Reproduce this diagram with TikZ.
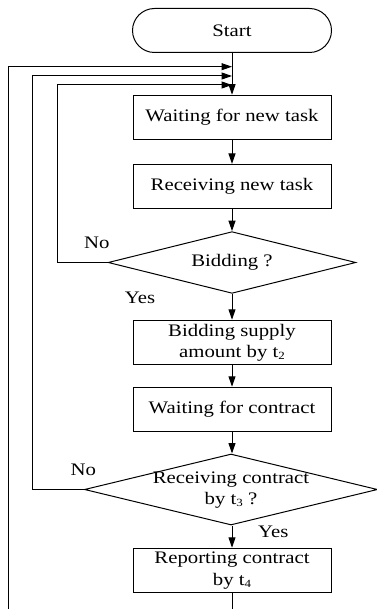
\documentclass[tikz,border=0pt]{standalone}
\usepackage{fontspec}
\setmainfont[FakeStretch=1.18]{Liberation Serif}
\usetikzlibrary{arrows.meta,shapes.geometric}
\newcommand{\sbs}[1]{\raisebox{-2pt}{\fontsize{11}{11}\selectfont #1}}
\begin{document}
\begin{tikzpicture}[x=1pt,y=-1pt,
  every node/.style={font=\fontsize{17.6}{21.4}\selectfont},
  box/.style={draw,line width=1pt,rectangle,minimum width=198pt,minimum height=44.5pt,inner sep=0pt,align=center},
  term/.style={draw,line width=1pt,rectangle,rounded corners=22pt,minimum width=199pt,minimum height=44pt,inner sep=0pt},
  dec/.style={draw,line width=1pt,diamond,inner sep=0pt},
  lbl/.style={inner sep=0pt,align=center},
  arr/.style={line width=1pt,-{Triangle[length=10.5pt,width=7pt]}},
  ln/.style={line width=1pt}]
\useasboundingbox (0,0) rectangle (376,609);
\node[term] (start) at (232,30.5) {Start};
\node[box] (b1) at (232,117.5) {Waiting for new task};
\node[box] (b2) at (232,186.7) {Receiving new task};
\node[dec,minimum width=247.7pt,minimum height=61.7pt] (d1) at (232,262.5) {};
\node[lbl] (t1) at (d1) {Bidding ?};
\node[box] (b3) at (232,342.5) {Bidding supply\\amount by t\sbs{2}};
\node[box] (b4) at (232,409.5) {Waiting for contract};
\node[dec,minimum width=293pt,minimum height=71pt] (d2) at (231,489.5) {};
\node[lbl] (t2) at (231,490) {Receiving contract\\by t\sbs{3} ?};
\node[box] (b5) at (232,570.5) {Reporting contract\\by t\sbs{4}};
\node[lbl] (no1) at (96.7,243.3) {No};
\node[lbl] (yes1) at (140,298.3) {Yes};
\node[lbl] (no2) at (83.3,470) {No};
\node[lbl] (yes2) at (273.3,531.7) {Yes};
\coordinate (j1) at (232,66.7);
\coordinate (j2) at (232,76);
\coordinate (j3) at (232,85);
\coordinate (e1) at (232,609);
\coordinate (e2) at (8.3,609);
\draw[arr] (start) -- (b1);
\draw[arr] (b1) -- (b2);
\draw[arr] (b2) -- (d1.north);
\draw[arr] (d1.south) -- (b3);
\draw[arr] (b3) -- (b4);
\draw[arr] (b4) -- (d2.north -| b4.south);
\draw[arr] (d2.south -| b5.north) -- (b5);
\draw[ln] (b5) -- (e1);
\draw[arr] (d1.west) -- ++(-50.3,0) |- (j3);
\draw[arr] (d2.west) -- ++(-51.5,0) |- (j2);
\draw[arr] (e2) |- (j1);
\end{tikzpicture}
\end{document}
